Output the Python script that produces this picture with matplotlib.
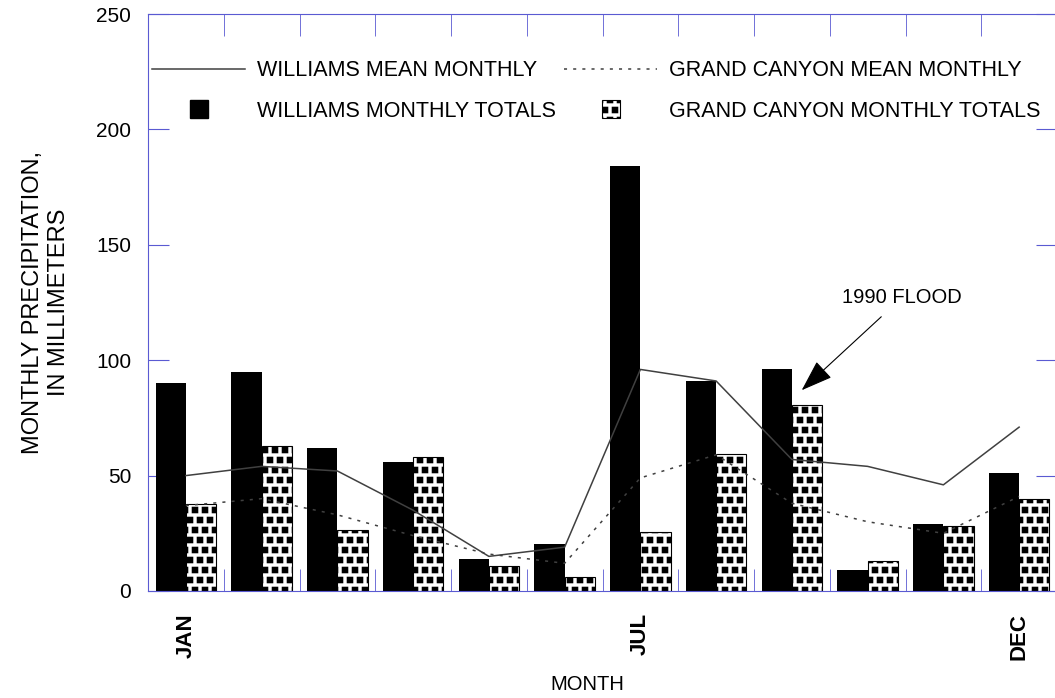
import numpy as np
import matplotlib
matplotlib.use('Agg')
import matplotlib.pyplot as plt
import matplotlib.hatch as mhatch
from matplotlib.patches import Patch, Rectangle
from matplotlib.lines import Line2D
from matplotlib.legend_handler import HandlerPatch

plt.rcParams['font.family'] = ['Liberation Sans', 'DejaVu Sans']

months = ['JAN', 'FEB', 'MAR', 'APR', 'MAY', 'JUN', 'JUL', 'AUG', 'SEP', 'OCT', 'NOV', 'DEC']
shown_months = ['JAN', 'JUL', 'DEC']
williams_totals = [90, 95, 62, 56, 14, 20.5, 184, 91, 96, 9, 29, 51]
canyon_totals = [37.5, 63, 26.5, 58, 11, 6, 25.5, 59.5, 80.5, 13, 28, 40]
williams_mean = [50, 54, 52, 35, 15, 19, 96, 91, 57, 54, 46, 71]
canyon_mean = [37, 40, 33, 24, 16, 12, 49, 59, 38, 30, 25, 41]


# staggered little black squares for the grand canyon bars
class SquareDots(mhatch.Shapes):
    size = 0.26
    filled = True

    def __init__(self, hatch, density):
        self.num_rows = hatch.count('.') * 10  # keep it even
        self.shape_vertices = np.array([[-1, -1], [1, -1], [1, 1], [-1, 1], [-1, -1]], float)
        self.shape_codes = np.array([1, 2, 2, 2, 79], dtype=np.uint8)
        super().__init__(hatch, density)


mhatch._hatch_types = [SquareDots if h is mhatch.SmallFilledCircles else h
                       for h in mhatch._hatch_types]

blue = '#5a5ad2'
grey = '#404040'

fig = plt.figure(figsize=(10.55, 6.98), dpi=100)
ax = fig.add_axes([148/1055, 1-591/698, 909/1055, 577/698])

x = np.arange(len(months))
ax.bar(x + 0.3, williams_totals, width=0.4, color='black', zorder=2)
ax.bar(x + 0.7, canyon_totals, width=0.4, facecolor='white', edgecolor='black',
       hatch='.', linewidth=0.8, zorder=2)
ax.plot(x + 0.5, williams_mean, color=grey, lw=1.1, zorder=3)
ax.plot(x + 0.5, canyon_mean, color=grey, lw=1.1, dashes=(2, 4), zorder=3)

ax.set_xlim(0, 12)
ax.set_ylim(0, 250)
ax.set_yticks(range(0, 251, 50))
ax.tick_params(axis='y', direction='in', length=15, color=blue, right=True,
               labelsize=15, pad=12)
ax.set_xticks([months.index(m) + 0.5 for m in shown_months], shown_months,
              rotation=90, fontsize=16, fontweight='bold')
ax.tick_params(axis='x', which='major', length=0, pad=16)
ax.set_xticks(range(1, 12), minor=True)
ax.tick_params(axis='x', which='minor', direction='in', length=16, color=blue, top=True)
for s in ax.spines.values():
    s.set_color(blue)

ax.set_xlabel('MONTH', fontsize=14.5)
ax.xaxis.set_label_coords(0.483, -0.145)
ax.set_ylabel('MONTHLY PRECIPITATION,\nIN MILLIMETERS', fontsize=17, labelpad=19)

ax.annotate('1990 FLOOD', xy=(8.63, 87), xytext=(9.95, 127), fontsize=14.5,
            ha='center', va='center',
            arrowprops=dict(arrowstyle='-|>,head_length=1.0,head_width=0.35',
                            mutation_scale=20, color='black', lw=0.8,
                            shrinkA=7, shrinkB=0))


def small_square(legend, orig_handle, xdescent, ydescent, width, height, fontsize):
    side = 13
    return Rectangle((-xdescent + (width - side) / 2, -ydescent + (height - side) / 2), side, side)


handles = [Line2D([], [], color=grey, lw=1.1),
           Patch(facecolor='black', edgecolor='black'),
           Line2D([], [], color=grey, lw=1.1, dashes=(2, 4)),
           Patch(facecolor='white', edgecolor='black', hatch='.', linewidth=0.8)]
labels = ['WILLIAMS MEAN MONTHLY', 'WILLIAMS MONTHLY TOTALS',
          'GRAND CANYON MEAN MONTHLY', 'GRAND CANYON MONTHLY TOTALS']
ax.legend(handles, labels, ncol=2, loc='upper left', bbox_to_anchor=(0.0, 0.927),
          frameon=False, fontsize=15.5, handlelength=4.3, handletextpad=0.55,
          columnspacing=0.4, labelspacing=0.89, borderaxespad=0, borderpad=0.2,
          handler_map={Patch: HandlerPatch(patch_func=small_square)})

fig.savefig('out.png', dpi=100)
